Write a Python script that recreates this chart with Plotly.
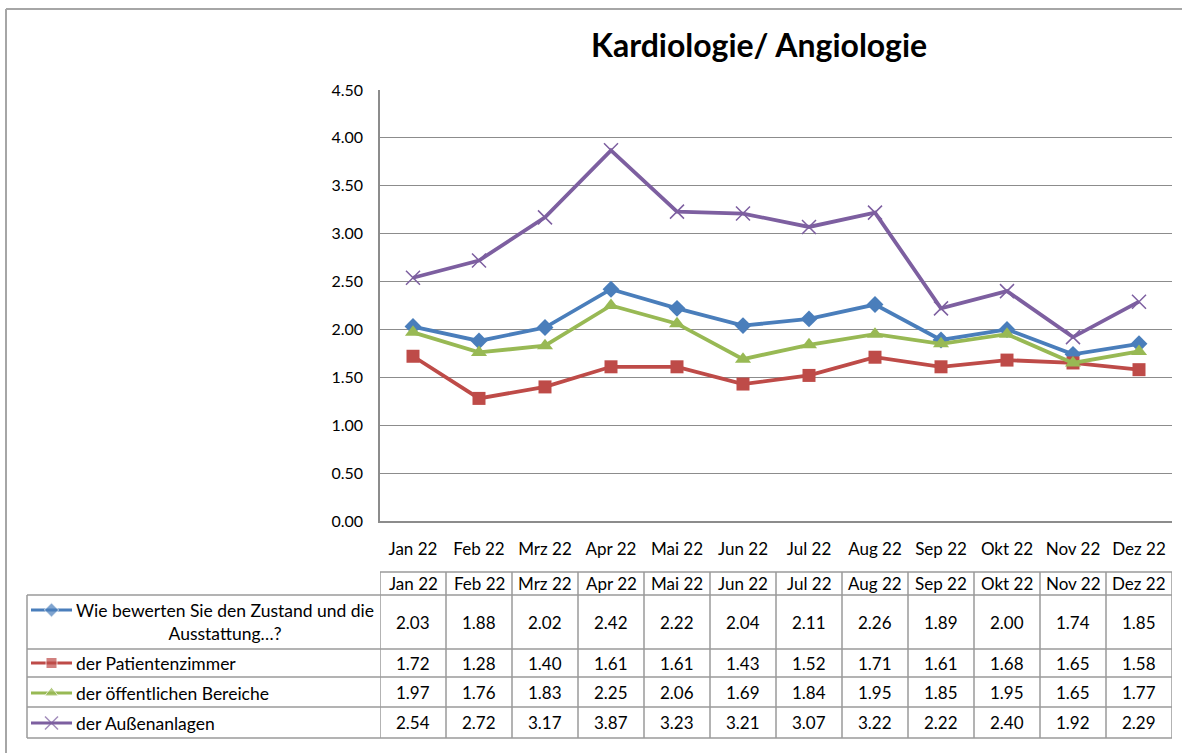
import plotly.graph_objects as go

# --- data -----------------------------------------------------------------
months = ["Jan 22", "Feb 22", "Mrz 22", "Apr 22", "Mai 22", "Jun 22",
          "Jul 22", "Aug 22", "Sep 22", "Okt 22", "Nov 22", "Dez 22"]

zustand = [2.03, 1.88, 2.02, 2.42, 2.22, 2.04, 2.11, 2.26, 1.89, 2.00, 1.74, 1.85]
patientenzimmer = [1.72, 1.28, 1.40, 1.61, 1.61, 1.43, 1.52, 1.71, 1.61, 1.68, 1.65, 1.58]
oeffentlich = [1.97, 1.76, 1.83, 2.25, 2.06, 1.69, 1.84, 1.95, 1.85, 1.95, 1.65, 1.77]
aussen = [2.54, 2.72, 3.17, 3.87, 3.23, 3.21, 3.07, 3.22, 2.22, 2.40, 1.92, 2.29]

series_names = [
    "Wie bewerten Sie den Zustand und die<br>Ausstattung…?",
    "der Patientenzimmer",
    "der öffentlichen Bereiche",
    "der Außenanlagen",
]
series_values = [zustand, patientenzimmer, oeffentlich, aussen]

y_ticks = [0, 0.5, 1.0, 1.5, 2.0, 2.5, 3.0, 3.5, 4.0, 4.5]

# --- styling --------------------------------------------------------------
W, H = 1182, 753
FONT = "Lato, 'Open Sans', sans-serif"
GRID = "#8c8c8c"
TABLE_LINE = "#9a9a9a"
colors = ["#4a7ebb", "#be4b48", "#98b954", "#7d5fa0"]
symbols = ["diamond", "square", "triangle-up", "x-thin"]
sizes = [13, 13, 14, 14]        # markers on the chart lines
key_sizes = [11, 11, 12, 13]    # markers in the table legend keys

# pixel geometry of the plot area / table
PL, PR, PT, PB = 380, 1172, 90, 521
row_edges = [572, 595, 649, 677, 707, 738]
LEG_LEFT = 27

fig = go.Figure()

for name, vals, col, sym, sz in zip(series_names, series_values, colors, symbols, sizes):
    marker = dict(symbol=sym, size=sz, color=col)
    if sym == "x-thin":
        marker["line"] = dict(color=col, width=1.5)
    fig.add_trace(go.Scatter(
        x=months, y=vals, mode="lines+markers",
        line=dict(color=col, width=3.8),
        marker=marker, name=name.replace("<br>", " "),
        showlegend=False, xaxis="x", yaxis="y",
    ))

# legend keys in the data table (drawn on a pixel overlay axis)
key_y = [610, 663, 693, 723]
for col, sym, sz, ky in zip(colors, symbols, key_sizes, key_y):
    marker = dict(symbol=sym, size=[0, sz, 0], color=col)
    if sym == "x-thin":
        marker["line"] = dict(color=col, width=1.5)
    fig.add_trace(go.Scatter(
        x=[31, 51.5, 72], y=[ky] * 3, mode="lines+markers",
        line=dict(color=col, width=3.2), marker=marker,
        showlegend=False, hoverinfo="skip", xaxis="x2", yaxis="y2",
    ))

shapes = []
annotations = []

# outer chart border
shapes.append(dict(type="line", xref="x2", yref="y2", x0=6, x1=6, y0=9, y1=H,
                   line=dict(color="#a6a6a6", width=2)))
shapes.append(dict(type="line", xref="x2", yref="y2", x0=6, x1=W, y0=9, y1=9,
                   line=dict(color="#a6a6a6", width=2)))

# table: horizontal lines
n = len(months)
shapes.append(dict(type="line", xref="x", yref="y2", x0=-0.5, x1=n - 0.5,
                   y0=row_edges[0], y1=row_edges[0], line=dict(color=TABLE_LINE, width=1.5)))
for ye in row_edges[1:]:
    shapes.append(dict(type="line", xref="x2", yref="y2", x0=LEG_LEFT, x1=PR,
                       y0=ye, y1=ye, line=dict(color=TABLE_LINE, width=1.5)))
# table: vertical lines
shapes.append(dict(type="line", xref="x2", yref="y2", x0=LEG_LEFT, x1=LEG_LEFT,
                   y0=row_edges[1], y1=row_edges[-1], line=dict(color=TABLE_LINE, width=1.5)))
for i in range(n + 1):
    shapes.append(dict(type="line", xref="x", yref="y2", x0=i - 0.5, x1=i - 0.5,
                       y0=row_edges[0], y1=row_edges[-1], line=dict(color=TABLE_LINE, width=1.5)))

tfont = dict(family=FONT, size=17, color="#000000")
# header row
for i, m in enumerate(months):
    annotations.append(dict(xref="x", yref="y2", x=i, y=(row_edges[0] + row_edges[1]) / 2,
                            text=m, showarrow=False, font=tfont))
# value rows
for r, vals in enumerate(series_values):
    yc = (row_edges[r + 1] + row_edges[r + 2]) / 2
    for i, v in enumerate(vals):
        annotations.append(dict(xref="x", yref="y2", x=i, y=yc, text=f"{v:.2f}",
                                showarrow=False, font=tfont))
    if r == 0:
        annotations.append(dict(xref="x2", yref="y2", x=225, y=yc, text=series_names[r],
                                showarrow=False, align="center",
                                font=dict(family=FONT, size=17.5, color="#000000")))
    else:
        annotations.append(dict(xref="x2", yref="y2", x=74, y=key_y[r], text=series_names[r],
                                xanchor="left", showarrow=False,
                                font=dict(family=FONT, size=17.5, color="#000000")))

# title
annotations.append(dict(xref="x2", yref="y2", x=759, y=44, text="<b>Kardiologie/ Angiologie</b>",
                        showarrow=False, font=dict(family=FONT, size=32, color="#000000")))

fig.update_layout(
    width=W, height=H,
    margin=dict(l=0, r=0, t=0, b=0, autoexpand=False),
    paper_bgcolor="#ffffff", plot_bgcolor="rgba(0,0,0,0)",
    font=dict(family=FONT, color="#000000"),
    xaxis=dict(
        domain=[PL / W, PR / W], anchor="y",
        type="category", categoryorder="array", categoryarray=months,
        range=[-0.5, n - 0.5], showgrid=False, zeroline=False,
        showline=True, linecolor=GRID, linewidth=1.5, ticks="",
        tickfont=dict(family=FONT, size=17, color="#000000"),
        ticklabelstandoff=12,
    ),
    yaxis=dict(
        domain=[(H - PB) / H, (H - PT) / H], anchor="x",
        range=[0, 4.5], tickvals=y_ticks, tickformat=".2f",
        showgrid=True, gridcolor=GRID, gridwidth=1.2, zeroline=False,
        showline=True, linecolor=GRID, linewidth=1.5, ticks="",
        tickfont=dict(family=FONT, size=16, color="#000000"),
        ticklabelstandoff=12,
    ),
    xaxis2=dict(domain=[0, 1], anchor="y2", range=[0, W], visible=False, fixedrange=True),
    yaxis2=dict(domain=[0, 1], anchor="x2", range=[H, 0], visible=False, fixedrange=True),
    shapes=shapes,
    annotations=annotations,
)

fig.write_html("out.html", config={"displayModeBar": False},
               post_script="document.body.style.margin='0';")
